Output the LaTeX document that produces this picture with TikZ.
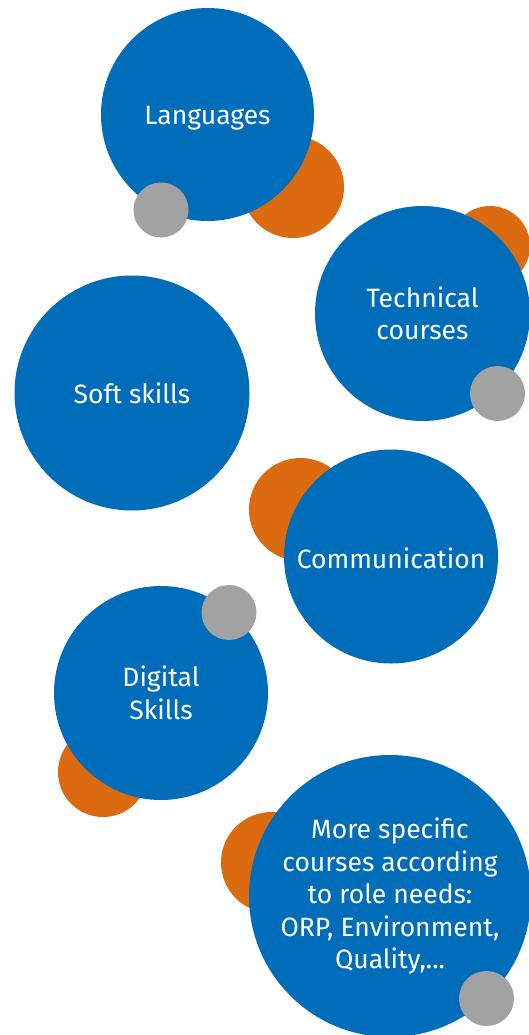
\documentclass[tikz,border=0pt]{standalone}
\usepackage{fontspec}
\setmainfont{Fira Sans}
\usetikzlibrary{positioning}
\definecolor{bubbleblue}{RGB}{0,109,186}
\definecolor{dotorange}{RGB}{219,106,16}
\definecolor{dotgray}{RGB}{162,162,162}
\tikzset{
	bubble/.style = {circle, fill=bubbleblue, text=white, inner sep=0pt, align=center, font=\fontsize{26.5}{32.5}\selectfont},
	orangedot/.style = {circle, fill=dotorange, inner sep=0pt},
	graydot/.style = {circle, fill=dotgray, inner sep=0pt, minimum size=55pt}
}

\begin{document}
\begin{tikzpicture}[x=1pt, y=-1pt]
		\useasboundingbox (0,0) rectangle (528,1035);
		% orange dots behind
		\foreach \name/\x/\y/\d in {o1/293/187/102, o2/490/246/80, o3/300.5/509.5/103, o4/103/772/90, o5/271.5/862.5/101}
			\node[orangedot, minimum size=\d pt] (\name) at (\x,\y) {};
		% blue bubbles
		\node[bubble, minimum size=213pt] (lang) at (207.5,114.5) {\raisebox{-4pt}[\height][\depth]{Languages}};
		\node[bubble, minimum size=215pt] (tech) at (422.5,313.5) {Technical\\courses};
		\node[bubble, minimum size=235pt] (soft) at (132,393) {Soft skills};
		\node[bubble, minimum size=214pt] (comm) at (391,556.5) {\raisebox{-2pt}[\height][\depth]{Communication}};
		\node[bubble, minimum size=214pt] (digi) at (161,693) {Digital\\Skills};
		\node[bubble, minimum size=282pt] (spec) at (390,896) {More specific\\courses according\\to role needs:\\ORP, Environment,\\Quality,...};
		% gray dots in front
		\foreach \name/\x/\y in {g1/161/210, g2/497.5/393.5, g3/229/612.5, g4/486.5/998.5}
			\node[graydot] (\name) at (\x,\y) {};
	\end{tikzpicture}
\end{document}
